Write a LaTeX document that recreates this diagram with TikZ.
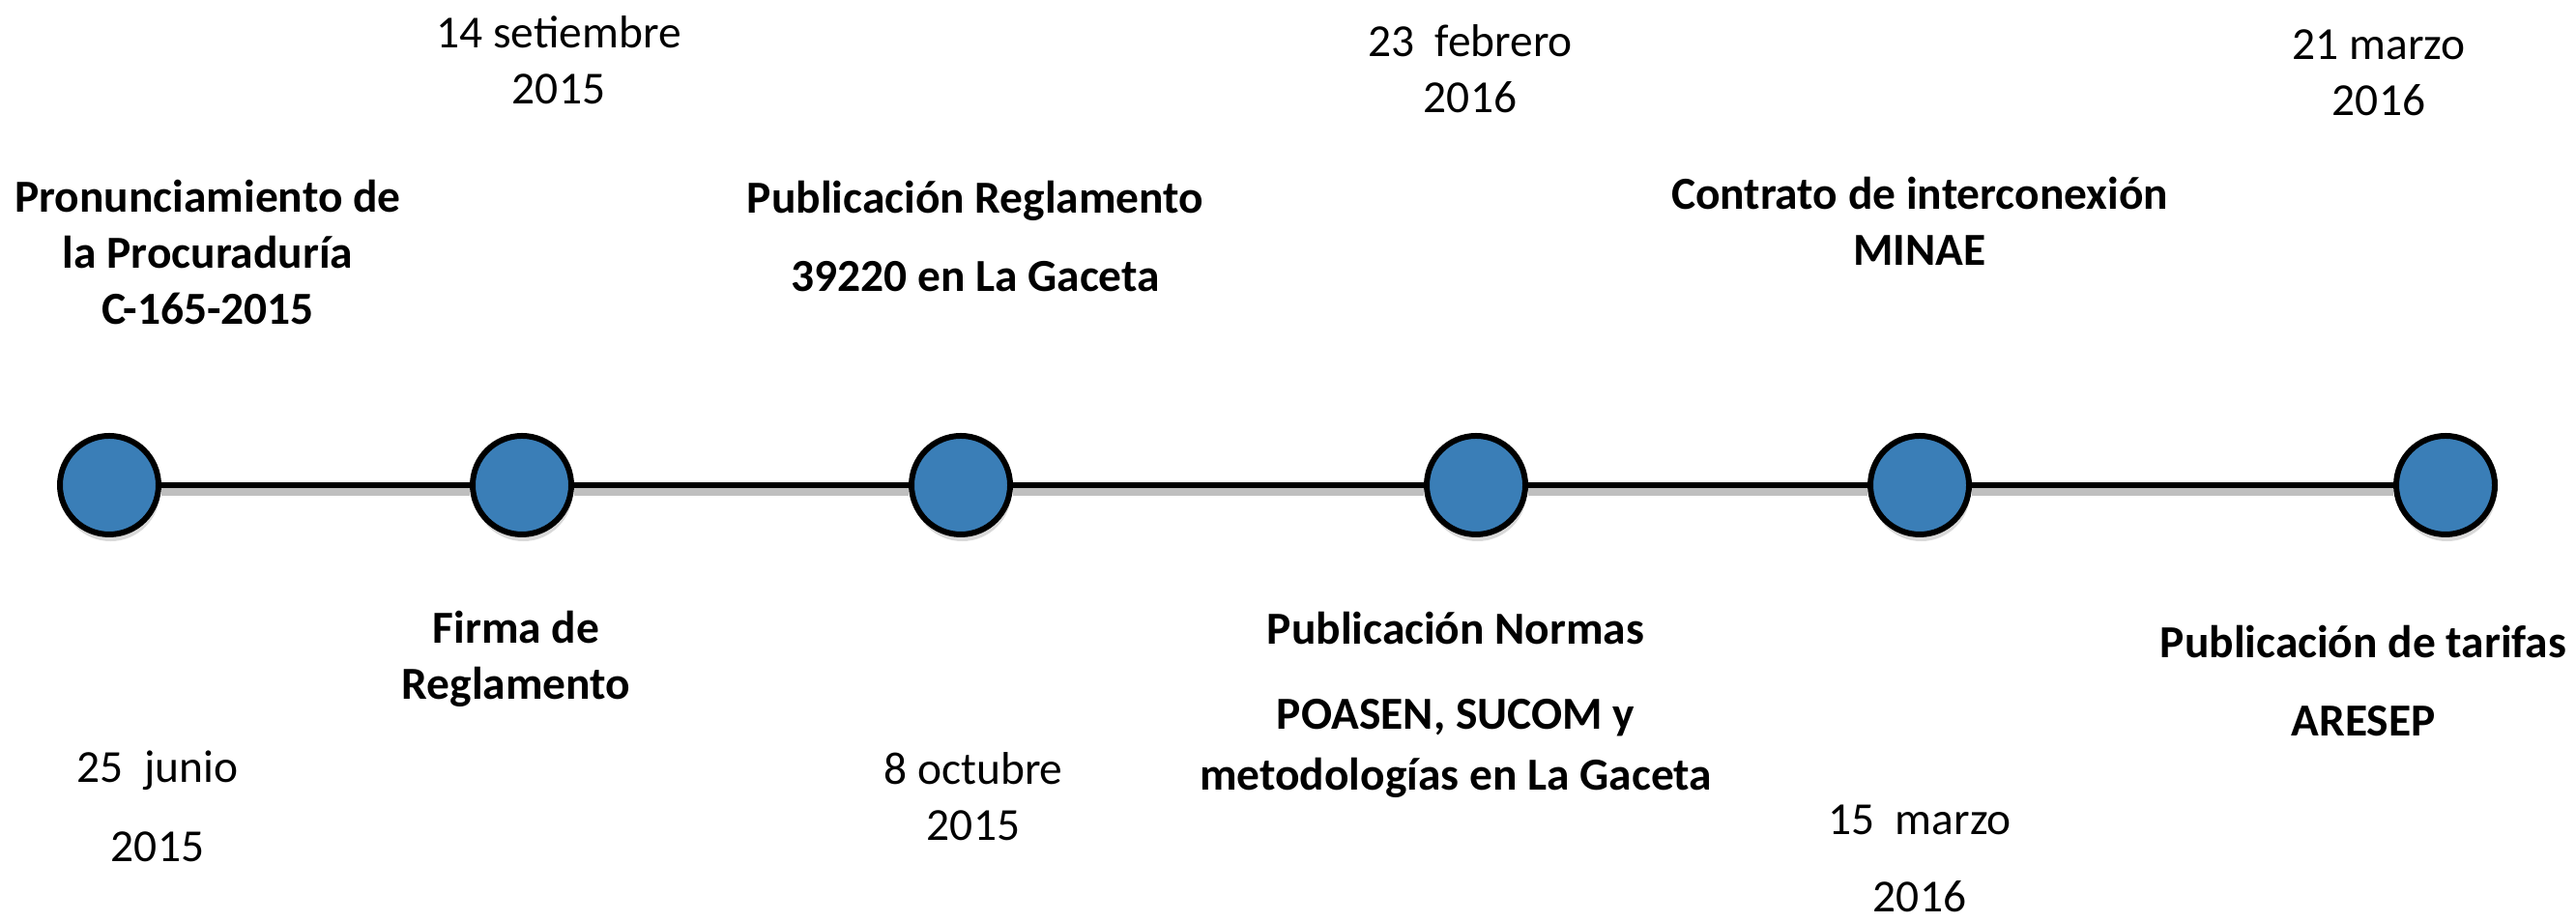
\documentclass[tikz,border=0pt]{standalone}
\usepackage{fontspec}
\setmainfont{Carlito}
\usetikzlibrary{shadows}

\definecolor{hitoblue}{RGB}{58,126,183}

\tikzset{
  hito/.style={circle, draw=black, line width=1.7pt, fill=hitoblue,
    minimum size=1.02cm, inner sep=0pt,
    drop shadow={shadow xshift=0.4pt, shadow yshift=-2pt, opacity=0.3}},
  evento/.style={anchor=base, align=center, font=\fontsize{13.5}{16.5}\selectfont\bfseries},
  fecha/.style={anchor=base, align=center, font=\fontsize{13.5}{16.5}\selectfont}
}

\begin{document}
\begin{tikzpicture}
            \useasboundingbox (0, 0) rectangle (26.65, 9.54);
            \node[hito] (e1) at (1.13, 4.52) {};
            \node[hito] (e2) at (5.40, 4.52) {};
            \node[hito] (e3) at (9.94, 4.52) {};
            \node[hito] (e4) at (15.27, 4.52) {};
            \node[hito] (e5) at (19.86, 4.52) {};
            \node[hito] (e6) at (25.30, 4.52) {};
            \draw[black!25, line width=2pt, transform canvas={yshift=-2pt}] (e1) -- (e2) -- (e3) -- (e4) -- (e5) -- (e6);
            \draw[line width=1.7pt] (e1) -- (e2) -- (e3) -- (e4) -- (e5) -- (e6);
            \node[evento] (t1) at (2.15, 6.18) {Pronunciamiento de\\la Procuraduría\\C-165-2015};
            \node[evento] (t2) at (5.34, 2.30) {Firma de\\Reglamento};
            \node[evento] (t3) at (10.09, 6.52) {Publicación Reglamento\\[6.8pt]39220 en La Gaceta};
            \node[evento] (t4) at (15.06, 1.36) {Publicación Normas\\[8.5pt]POASEN, SUCOM y\\[1.7pt]metodologías en La Gaceta};
            \node[evento] (t5) at (19.86, 6.79) {Contrato de interconexión\\MINAE};
            \node[evento] (t6) at (24.45, 1.92) {Publicación de tarifas\\[6.8pt]ARESEP};
            \node[fecha] (d1) at (1.63, 0.62) {25~~junio\\[7pt]2015};
            \node[fecha] (d2) at (5.78, 8.46) {14 setiembre\\2015};
            \node[fecha] (d3) at (10.07, 0.84) {8 octubre\\2015};
            \node[fecha] (d4) at (15.21, 8.37) {23~~febrero\\2016};
            \node[fecha] (d5) at (19.86, 0.10) {15~~marzo\\[6.4pt]2016};
            \node[fecha] (d6) at (24.61, 8.34) {21 marzo\\2016};
        \end{tikzpicture}
\end{document}
